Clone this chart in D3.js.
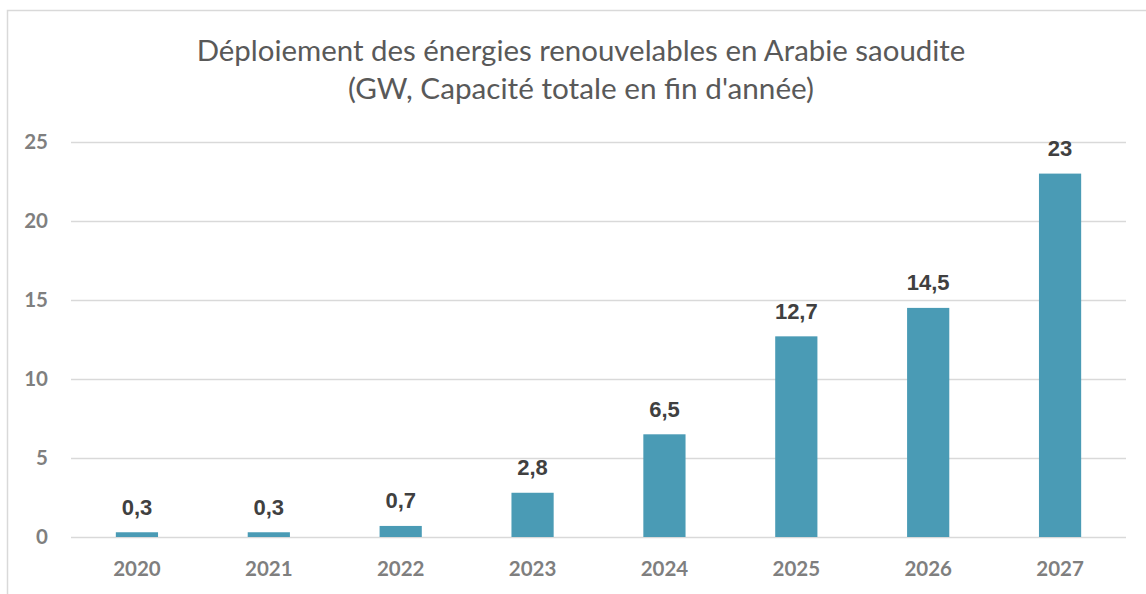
<!DOCTYPE html>
<html>
<head>
<meta charset="utf-8">
<script src="https://cdn.jsdelivr.net/npm/d3@7"></script>
<style>
  body { margin: 0; background: #fff; }
  svg { display: block; }
</style>
</head>
<body>
<div id="chart"></div>
<script>
var years = ["2020", "2021", "2022", "2023", "2024", "2025", "2026", "2027"];
var capacity = [0.3, 0.3, 0.7, 2.8, 6.5, 12.7, 14.5, 23];
var yTicks = [0, 5, 10, 15, 20, 25];
var titleLines = [
  "Déploiement des énergies renouvelables en Arabie saoudite",
  "(GW, Capacité totale en fin d'année)"
];

var width = 1146,
    height = 594;
var plot = { left: 71, right: 1126, top: 142, bottom: 537 };

var svg = d3.select("#chart")
  .append("svg")
    .attr("width", width)
    .attr("height", height);

// chart frame (only left and top visible in the crop)
svg.append("rect")
  .attr("x", 7.5)
  .attr("y", 10.5)
  .attr("width", 1160)
  .attr("height", 600)
  .attr("fill", "none")
  .attr("stroke", "#d9d9d9")
  .attr("stroke-width", 1.5);

var x = d3.scaleBand()
  .domain(years)
  .range([plot.left, plot.right])
  .paddingInner(0.68)
  .paddingOuter(0.34);

var y = d3.scaleLinear()
  .domain([0, 25])
  .range([plot.bottom, plot.top]);

// gridlines + y labels
var yAxis = d3.axisLeft(y)
  .tickValues(yTicks)
  .tickSize(-(plot.right - plot.left))
  .tickPadding(23)
  .tickFormat(d3.format("d"));

svg.append("g")
  .attr("class", "y-axis")
  .attr("transform", "translate(" + plot.left + ",0)")
  .call(yAxis)
  .call(function(g) {
    g.select(".domain").remove();
    g.selectAll(".tick line")
      .attr("stroke", "#d9d9d9")
      .attr("stroke-width", 1.5);
    g.selectAll(".tick text")
      .attr("fill", "#7f7f7f")
      .attr("font-family", "Lato, sans-serif")
      .attr("font-weight", "bold")
      .attr("font-size", "20.5px");
  });

// bars
svg.append("g")
  .selectAll("rect")
  .data(capacity)
  .enter()
    .append("rect")
    .attr("x", function(d, i) { return x(years[i]); })
    .attr("y", function(d) { return y(d); })
    .attr("width", x.bandwidth())
    .attr("height", function(d) { return y(0) - y(d); })
    .attr("fill", "#4a9bb5");

// value labels
var formatValue = function(d) { return String(d).replace(".", ","); };
svg.append("g")
  .selectAll("text")
  .data(capacity)
  .enter()
    .append("text")
    .attr("x", function(d, i) { return x(years[i]) + x.bandwidth() / 2; })
    .attr("y", function(d) { return y(d) - 17.5; })
    .attr("text-anchor", "middle")
    .attr("fill", "#404040")
    .attr("font-family", "'Liberation Sans', Arial, sans-serif")
    .attr("font-weight", "bold")
    .attr("font-size", "22px")
    .text(formatValue);

// x labels
var xAxis = d3.axisBottom(x).tickSize(0).tickPadding(24);
svg.append("g")
  .attr("class", "x-axis")
  .attr("transform", "translate(0," + plot.bottom + ")")
  .call(xAxis)
  .call(function(g) {
    g.select(".domain").remove();
    g.selectAll(".tick text")
      .attr("fill", "#7f7f7f")
      .attr("font-family", "Lato, sans-serif")
      .attr("font-weight", "bold")
      .attr("font-size", "20.5px");
  });

// title, sized to match the reference widths
var titleWidths = [769, 466],
    titleBaselines = [61, 99];
svg.append("g")
  .selectAll("text")
  .data(titleLines)
  .enter()
    .append("text")
    .attr("x", 581)
    .attr("y", function(d, i) { return titleBaselines[i]; })
    .attr("text-anchor", "middle")
    .attr("fill", "#595959")
    .attr("font-family", "Lato, sans-serif")
    .attr("font-size", "26px")
    .text(function(d) { return d; })
    .each(function(d, i) {
      var len = this.getComputedTextLength();
      var fs = 26 * titleWidths[i] / len;
      d3.select(this).attr("font-size", fs.toFixed(2) + "px");
    });
</script>
</body>
</html>
